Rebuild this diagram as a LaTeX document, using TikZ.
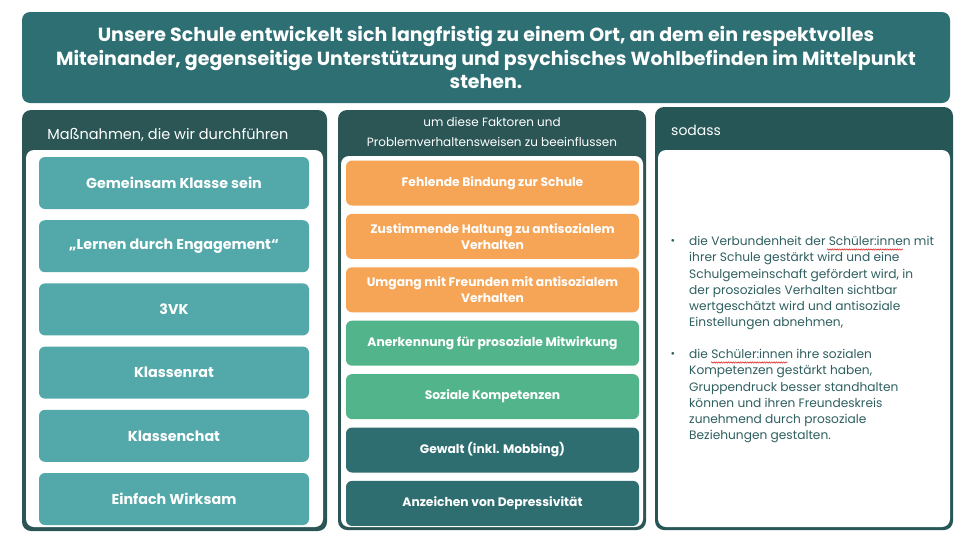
\documentclass[tikz,border=0pt]{standalone}
\usepackage{fontspec}
\setmainfont{Poppins}
\usepackage{tikz}
\usetikzlibrary{positioning}
\usetikzlibrary{decorations.pathmorphing}
\definecolor{titleteal}{HTML}{2E6F73}
\definecolor{headdark}{HTML}{2C5656}
\definecolor{sodassdark}{HTML}{265656}
\definecolor{measureteal}{HTML}{53A8A9}
\definecolor{factororange}{HTML}{F6A456}
\definecolor{factorgreen}{HTML}{52B48B}
\definecolor{factorteal}{HTML}{2E6E71}
\definecolor{bodytext}{HTML}{2F5F60}

\begin{document}
\begin{tikzpicture}[
    x=1pt, y=-1pt,
    panel/.style={
        fill=headdark, rounded corners=9pt, inner sep=0pt
    },
    panel inner/.style={
        fill=white, rounded corners=8pt, inner sep=0pt
    },
    measure box/.style={
        fill=measureteal, rounded corners=6pt, text=white,
        minimum width=270pt, minimum height=52pt, inner sep=0pt,
        font=\fontsize{14.3}{17}\selectfont\bfseries
    },
    factor box/.style={
        rounded corners=6pt, text=white, align=center,
        minimum width=293pt, minimum height=45pt, inner sep=0pt,
        font=\fontsize{12.3}{16}\selectfont\bfseries
    },
    head text/.style={
        text=white, inner sep=0pt
    },
    spell wave/.style={
        draw=red!85!black, line width=0.45pt, decorate,
        decoration={snake, amplitude=0.7pt, segment length=2.4pt}
    }
  ]

  \useasboundingbox (0,0) rectangle (975,544);

  % title banner
  \node[fill=titleteal, rounded corners=8pt, minimum width=928pt,
        minimum height=91pt, text=white, align=center,
        font=\fontsize{19}{23.5}\selectfont\bfseries] (title) at (486,57.5)
       {Unsere Schule entwickelt sich langfristig zu einem Ort, an dem ein respektvolles\\
        Miteinander, gegenseitige Unterstützung und psychisches Wohlbefinden im Mittelpunkt\\
        stehen.};

  % left column
  \node[panel, minimum width=305pt, minimum height=421pt] (left_panel) at (174.5,320.5) {};
  \node[panel inner, minimum width=297pt, minimum height=377pt] (left_inner) at (174.5,338.5) {};
  \node[head text, font=\fontsize{14.5}{18}\selectfont] (left_head) at (168,135)
       {Maßnahmen, die wir durchführen};

  \node[measure box] (m_klasse) at (174,183) {Gemeinsam Klasse sein};
  \node[measure box, below=10.8pt of m_klasse] (m_engagement) {„Lernen durch Engagement“};
  \node[measure box, below=10.8pt of m_engagement] (m_vk) {3VK};
  \node[measure box, below=10.8pt of m_vk] (m_rat) {Klassenrat};
  \node[measure box, below=10.8pt of m_rat] (m_chat) {Klassenchat};
  \node[measure box, below=10.8pt of m_chat] (m_wirksam) {Einfach Wirksam};

  % middle column
  \node[panel, minimum width=308pt, minimum height=420pt] (mid_panel) at (492,320) {};
  \node[panel inner, minimum width=302pt, minimum height=371pt] (mid_inner) at (492,341.5) {};
  \node[head text, align=center, font=\fontsize{12}{20}\selectfont] (mid_head) at (492,132)
       {um diese Faktoren und\\ Problemverhaltensweisen zu beeinflussen};

  \node[factor box, fill=factororange] (f_bindung) at (492.5,183) {Fehlende Bindung zur Schule};
  \node[factor box, fill=factororange, below=8pt of f_bindung] (f_haltung)
       {Zustimmende Haltung zu antisozialem\\ Verhalten};
  \node[factor box, fill=factororange, below=8pt of f_haltung] (f_freunde)
       {Umgang mit Freunden mit antisozialem\\ Verhalten};
  \node[factor box, fill=factorgreen, below=8pt of f_freunde] (f_anerkennung)
       {Anerkennung für prosoziale Mitwirkung};
  \node[factor box, fill=factorgreen, below=8pt of f_anerkennung] (f_kompetenz)
       {Soziale Kompetenzen};
  \node[factor box, fill=factorteal, below=8pt of f_kompetenz] (f_gewalt)
       {Gewalt (inkl. Mobbing)};
  \node[factor box, fill=factorteal, below=8pt of f_gewalt] (f_depression)
       {Anzeichen von Depressivität};

  % right column
  \node[panel, fill=sodassdark, minimum width=298pt, minimum height=423pt] (right_panel) at (804,318.5) {};
  \node[panel inner, minimum width=292pt, minimum height=377pt] (right_inner) at (804,338.5) {};
  \node[head text, anchor=west, font=\fontsize{14}{17}\selectfont] (right_head) at (671,130) {sodass};

  \node[text=bodytext, font=\fontsize{11}{16.3}\selectfont] (bullet_a) at (673,242) {•};
  \node[text=bodytext, anchor=north west, align=left, inner sep=0pt,
        font=\fontsize{12.2}{16.3}\selectfont] (item_a) at (689,236)
       {die Verbundenheit der Schüler:innen mit\\
        ihrer Schule gestärkt wird und eine\\
        Schulgemeinschaft gefördert wird, in\\
        der prosoziales Verhalten sichtbar\\
        wertgeschätzt wird und antisoziale\\
        Einstellungen abnehmen,};

  \node[text=bodytext, font=\fontsize{11}{16.3}\selectfont] (bullet_b) at (673,355) {•};
  \node[text=bodytext, anchor=north west, align=left, inner sep=0pt,
        font=\fontsize{12.2}{16.3}\selectfont] (item_b) at (689,349)
       {die Schüler:innen ihre sozialen\\
        Kompetenzen gestärkt haben,\\
        Gruppendruck besser standhalten\\
        können und ihren Freundeskreis\\
        zunehmend durch prosoziale\\
        Beziehungen gestalten.};

  % spell check marks
  \coordinate (spell_a_l) at (827,249.5);
  \coordinate (spell_a_r) at (903,249.5);
  \coordinate (spell_b_l) at (711,362.5);
  \coordinate (spell_b_r) at (788,362.5);
  \draw[spell wave] (spell_a_l) -- (spell_a_r);
  \draw[spell wave] (spell_b_l) -- (spell_b_r);

\end{tikzpicture}
\end{document}
